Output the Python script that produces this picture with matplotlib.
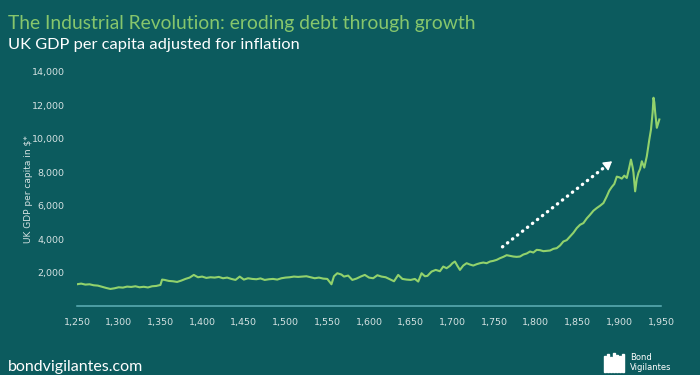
import matplotlib
matplotlib.use('Agg')
import matplotlib.pyplot as plt
from matplotlib.patches import Rectangle

# Datos (PIB per capita del Reino Unido)
anios = [1250, 1255, 1260, 1265, 1270, 1275, 1280, 1285, 1290, 1295,
         1300, 1305, 1310, 1315, 1320, 1325, 1330, 1335, 1340, 1345,
         1350, 1352, 1355, 1360, 1365, 1370, 1375, 1380, 1385, 1390,
         1395, 1400, 1405, 1410, 1415, 1420, 1425, 1430, 1435, 1440,
         1445, 1450, 1455, 1460, 1465, 1470, 1475, 1480, 1485, 1490,
         1495, 1500, 1505, 1510, 1515, 1520, 1525, 1530, 1535, 1540,
         1545, 1550, 1555, 1558, 1562, 1567, 1570, 1575, 1580, 1585,
         1590, 1595, 1600, 1605, 1610, 1615, 1620, 1625, 1630, 1635,
         1640, 1645, 1650, 1655, 1659, 1663, 1667, 1670, 1675, 1680,
         1685, 1689, 1693, 1697, 1700, 1703, 1706, 1709, 1713, 1717,
         1721, 1725, 1729, 1733, 1737, 1741, 1745, 1749, 1753, 1757,
         1761, 1765, 1769, 1773, 1777, 1781, 1785, 1789, 1793, 1797,
         1801, 1805, 1809, 1813, 1817, 1821, 1825, 1829, 1833, 1837,
         1841, 1845, 1849, 1853, 1857, 1861, 1865, 1869, 1873, 1877,
         1881, 1885, 1888, 1891, 1894, 1897, 1900, 1903, 1906, 1909,
         1912, 1914, 1916, 1917, 1919, 1921, 1923, 1925, 1927, 1930,
         1933, 1936, 1938, 1940, 1941, 1942, 1943, 1945, 1947, 1948]
pib = [1300, 1340, 1280, 1300, 1240, 1220, 1150, 1080, 1020, 1060,
       1120, 1100, 1160, 1140, 1180, 1120, 1150, 1110, 1180, 1200,
       1260, 1580, 1560, 1500, 1480, 1440, 1520, 1620, 1700, 1860,
       1720, 1760, 1680, 1720, 1700, 1740, 1660, 1700, 1620, 1560,
       1760, 1580, 1660, 1620, 1600, 1650, 1560, 1600, 1620, 1580,
       1660, 1700, 1720, 1760, 1740, 1760, 1780, 1720, 1660, 1700,
       1640, 1620, 1300, 1780, 1960, 1880, 1760, 1820, 1560, 1640,
       1760, 1860, 1700, 1660, 1840, 1760, 1720, 1600, 1480, 1860,
       1620, 1580, 1560, 1620, 1460, 1960, 1780, 1800, 2060, 2160,
       2080, 2360, 2260, 2400, 2560, 2660, 2400, 2160, 2420, 2560,
       2480, 2420, 2500, 2560, 2600, 2560, 2660, 2700, 2760, 2860,
       2940, 3040, 3000, 2960, 2940, 2960, 3080, 3140, 3260, 3200,
       3360, 3340, 3280, 3300, 3320, 3420, 3460, 3620, 3860, 3940,
       4160, 4380, 4660, 4860, 4960, 5240, 5460, 5700, 5860, 6000,
       6160, 6560, 6900, 7120, 7300, 7740, 7700, 7620, 7800, 7660,
       8300, 8760, 8300, 7980, 6860, 7600, 7980, 8200, 8660, 8280,
       8960, 9960, 10560, 11600, 12460, 12180, 11600, 10660, 10980, 11160]

ticks_x = list(range(1250, 1951, 50))
ticks_y = list(range(2000, 14001, 2000))

fondo = '#0c5b5e'
verde = '#92d26c'

fig = plt.figure(figsize=(7, 3.75), dpi=100, facecolor=fondo)
ax = fig.add_axes([77/700, 69/375, 584/700, 234/375])
ax.set_facecolor(fondo)

ax.plot(anios, pib, color=verde, lw=1.5)

ax.set_xlim(1250, 1950)
ax.set_ylim(0, 14000)
ax.set_xticks(ticks_x)
ax.set_xticklabels(['{:,}'.format(t) for t in ticks_x])
ax.set_yticks(ticks_y)
ax.set_yticklabels(['{:,}'.format(t) for t in ticks_y])
ax.tick_params(colors='#d5e2e2', labelsize=6.8, length=0)
ax.tick_params(axis='y', pad=9)
ax.tick_params(axis='x', pad=9)
for s in ['top', 'right', 'left']:
    ax.spines[s].set_visible(False)
ax.spines['bottom'].set_color('#5fb0b8')
ax.spines['bottom'].set_linewidth(1.1)
ax.set_ylabel('UK GDP per capita in $*', color='#d5e2e2', fontsize=6.5, labelpad=-1)

# flecha punteada
ini = (1760, 3540)
fin = (1894, 8760)
ax.plot([ini[0], fin[0] - 6], [ini[1], ini[1] + (fin[1] - ini[1]) * (fin[0] - 6 - ini[0]) / (fin[0] - ini[0])],
        color='white', lw=2.4, linestyle=(0, (0.1, 1.8)), solid_capstyle='round', dash_capstyle='round')
ax.annotate('', xy=fin, xytext=(fin[0] - 8, fin[1] - 310),
            arrowprops=dict(arrowstyle='-|>,head_length=0.5,head_width=0.3', color='white', lw=1))

fig.text(8/700, 1 - 23/375, 'The Industrial Revolution: eroding debt through growth',
         color='#86c66c', fontsize=13.9, family='Lato', va='center')
fig.text(8/700, 1 - 45/375, 'UK GDP per capita adjusted for inflation',
         color='white', fontsize=11.8, family='Lato', va='center')
fig.text(8/700, 4/375, 'bondvigilantes.com', color='white', fontsize=11.5,
         family='Lato', va='baseline')

# logo
for i, h in enumerate([16, 18, 15, 19, 17, 16, 18]):
    fig.patches.append(Rectangle(((604 + i * 3) / 700, 3 / 375), 2 / 700, h / 375,
                                 transform=fig.transFigure, color='white'))
fig.text(630/700, 1 - 358/375, 'Bond', color='white', fontsize=6, va='center')
fig.text(630/700, 1 - 367/375, 'Vigilantes', color='white', fontsize=6, va='center')

plt.savefig('out.png', dpi=100, facecolor=fondo)
